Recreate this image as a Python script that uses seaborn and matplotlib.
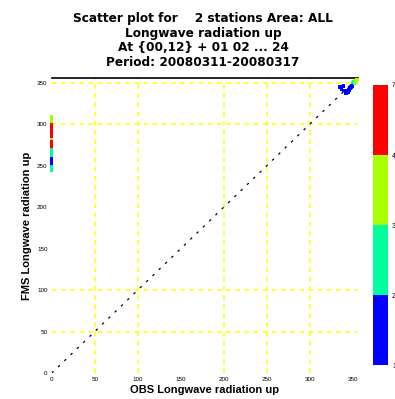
import numpy as np
import pandas as pd
import matplotlib
matplotlib.use("Agg")
import matplotlib.pyplot as plt
from matplotlib.colors import ListedColormap, BoundaryNorm
import seaborn as sns

# ---- data ----
tick_values = [0, 50, 100, 150, 200, 250, 300, 350]
tick_labels = ["0", "50", "100", "150", "200", "250", "300", "350"]
grid_x = [50, 100, 200, 250, 300]
grid_y = [50, 100, 300, 350]

# cluster near the top right (obs, model, density class)
obs_vals = [335, 337, 339, 340, 342, 343, 344, 345, 346, 347, 348, 349, 350, 351, 345, 347,
            350, 351, 352, 353, 354, 354, 355]
mod_vals = [345, 342, 346, 341, 337, 339, 340, 342, 341, 344, 345, 347, 346, 349, 338, 343,
            350, 351, 349, 352, 351, 353, 354]
cls_vals = [1, 1, 1, 1, 1, 1, 1, 1, 1, 1, 1, 1, 1, 1, 1, 1,
            2, 2, 2, 2, 3, 3, 3]

# stack of points at obs = 0
zero_y = [309, 307, 305, 303, 301, 299, 297, 295, 293, 291, 289, 287, 285, 283,
          281, 279, 277, 275, 273, 271, 269, 267, 265, 263, 261, 259, 257, 255, 253, 251, 249, 247, 245]
zero_c = [3, 3, 3, 3, 3, 4, 4, 4, 4, 4, 4, 4, 4, 4,
          3, 4, 4, 4, 4, 4, 2, 2, 2, 2, 2, 1, 1, 1, 1, 1, 2, 2, 2]

cbar_levels = [1, 2, 3, 4, 5]
cbar_labels = ["1", "2", "3", "4", "7"]
cbar_colors = ["#0000ff", "#00ff9c", "#aaff00", "#ff0000"]

title_lines = ["Scatter plot for    2 stations Area: ALL",
               "Longwave radiation up",
               "At {00,12} + 01 02 ... 24",
               "Period: 20080311-20080317"]
xlabel = "OBS Longwave radiation up"
ylabel = "FMS Longwave radiation up"

# ---- build figure ----
sns.set_theme(style="white")
plt.rcParams['font.family'] = ['Liberation Sans', 'DejaVu Sans']
plt.rcParams.update({"text.color": "black", "axes.labelcolor": "black",
                     "xtick.color": "black", "ytick.color": "black"})

fig = plt.figure(figsize=(3.95, 3.99), dpi=100)
ax = fig.add_axes([0.131, 0.065, 0.775, 0.740])
cax = fig.add_axes([0.944, 0.085, 0.038, 0.702])

lim = 356
ax.set_xlim(0, lim)
ax.set_ylim(0, lim)

for gx in grid_x:
    ax.axvline(gx, color="#ffff00", lw=1.1, ls=(0, (3, 3)), zorder=1)
for gy in grid_y:
    ax.axhline(gy, color="#ffff00", lw=1.1, ls=(0, (3, 3)), zorder=1)
ax.plot([0, lim], [0, lim], color="black", lw=0.9, ls=(0, (2, 5)), zorder=2)

df = pd.DataFrame({
    "obs": obs_vals + [0] * len(zero_y),
    "mod": mod_vals + zero_y,
    "cls": cls_vals + zero_c,
})
pal = {i + 1: c for i, c in enumerate(cbar_colors)}
sns.scatterplot(data=df, x="obs", y="mod", hue="cls", palette=pal, marker="s",
                s=6, linewidth=0, legend=False, ax=ax, zorder=3, clip_on=False)

for side in ["left", "right", "bottom"]:
    ax.spines[side].set_visible(False)
ax.spines["top"].set_color("black")
ax.spines["top"].set_linewidth(1.2)

ax.set_xticks(tick_values)
ax.set_xticklabels(tick_labels)
ax.set_yticks(tick_values)
ax.set_yticklabels(tick_labels)
ax.tick_params(axis="both", which="major", length=0, labelsize=4.5, pad=3,
               labelcolor="black")
ax.set_xticks(grid_x, minor=True)
ax.set_yticks(grid_y, minor=True)
ax.tick_params(axis="both", which="minor", length=4, width=1.0, color="black",
               top=True, bottom=True, left=True, right=True, direction="out")

ax.set_xlabel(xlabel, fontsize=8, fontweight="bold", labelpad=2, color="black")
ax.set_ylabel(ylabel, fontsize=8, fontweight="bold", labelpad=3.5, color="black")

for i, t in enumerate(title_lines):
    fig.text(0.514, 1 - (18.5 + i * 14.5) / 399, t, ha="center", va="center",
             fontsize=8.7, fontweight="bold", family=["DejaVu Sans"], color="black")

cmap = ListedColormap(cbar_colors)
norm = BoundaryNorm(cbar_levels, cmap.N)
cb = fig.colorbar(plt.cm.ScalarMappable(norm=norm, cmap=cmap), cax=cax, ticks=cbar_levels)
cb.outline.set_visible(False)
cb.set_ticklabels(cbar_labels)
cax.tick_params(length=0, labelsize=5, pad=3, labelcolor="black")

fig.savefig("out.png", dpi=100, facecolor="white")
